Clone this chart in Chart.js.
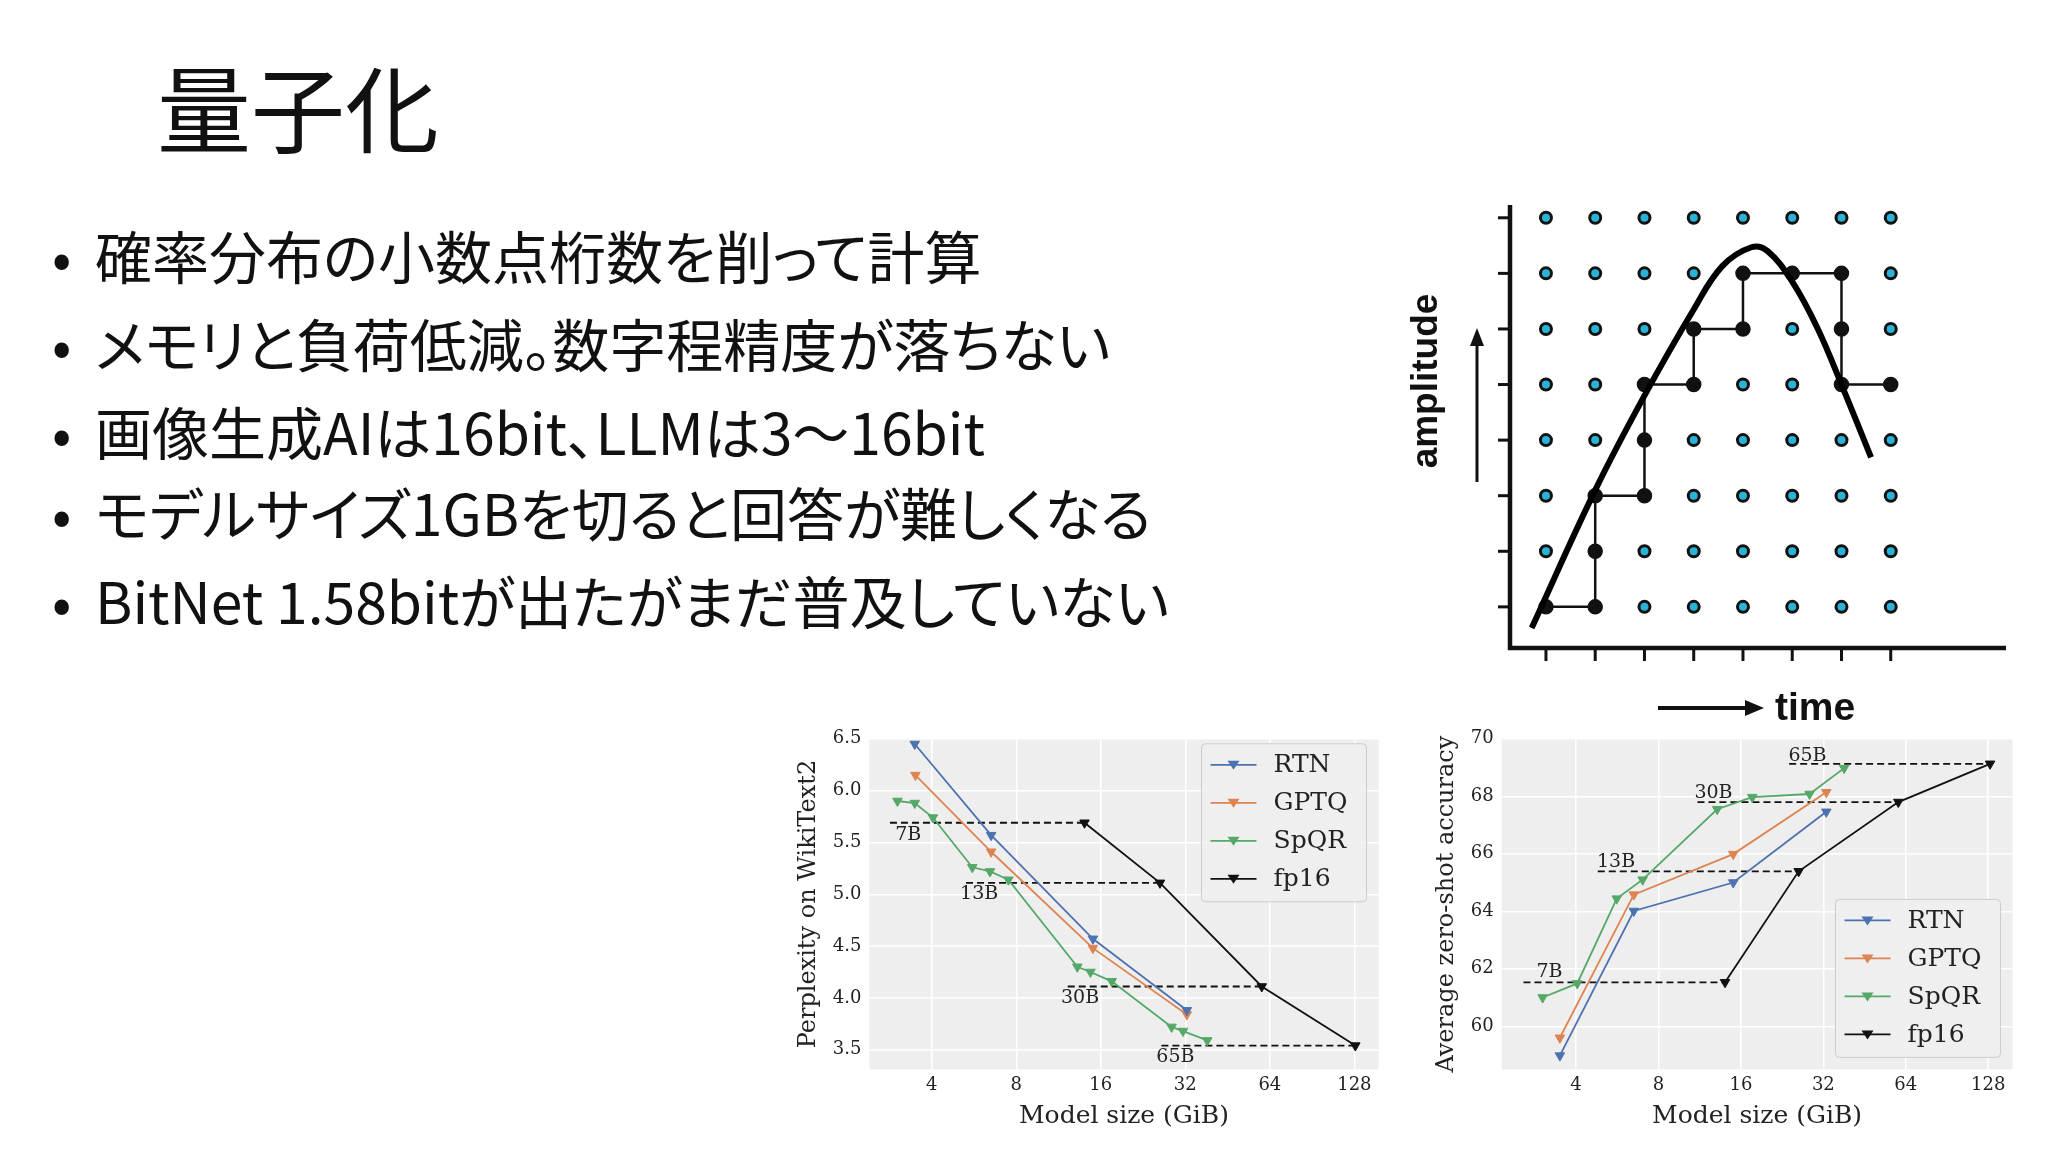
<!DOCTYPE html>
<html><head><meta charset="utf-8">
<script src="https://cdn.jsdelivr.net/npm/chart.js@4"></script>
<style>
html,body{margin:0;padding:0;background:#fff;width:2048px;height:1152px;overflow:hidden;position:relative;font-family:"Noto Sans CJK JP","Noto Sans",sans-serif;}
#title{position:absolute;left:157px;top:50px;font-size:94px;line-height:110px;color:#111;}
.b{position:absolute;left:52px;font-size:57px;line-height:70px;color:#111;white-space:nowrap;font-feature-settings:"palt";}
.b span{display:inline-block;width:43px;}
.cv{position:absolute;}
#amp{position:absolute;left:1335px;top:360px;width:180px;text-align:center;transform:rotate(-90deg);font:bold 37px "Liberation Sans",Arial,sans-serif;color:#111;}
#time{position:absolute;left:1775px;top:685px;font:bold 39px "Liberation Sans",Arial,sans-serif;color:#111;}
</style></head><body>
<div id="title">量子化</div>
<div class="b" style="top:219px"><span>•</span>確率分布の小数点桁数を削って計算</div>
<div class="b" style="top:307px"><span>•</span>メモリと負荷低減。数字程精度が落ちない</div>
<div class="b" style="top:395px"><span>•</span>画像生成AIは16bit、LLMは3～16bit</div>
<div class="b" style="top:476px"><span>•</span>モデルサイズ1GBを切ると回答が難しくなる</div>
<div class="b" style="top:564px"><span>•</span>BitNet 1.58bitが出たがまだ普及していない</div>
<canvas id="d" class="cv" style="left:1386px;top:188px;width:648px;height:540px" width="648" height="540"></canvas>
<div id="amp">amplitude</div>
<div id="time">time</div>
<canvas id="c1" class="cv" style="left:790px;top:720px;width:595px;height:419px" width="595" height="419"></canvas>
<canvas id="c2" class="cv" style="left:1428px;top:720px;width:591px;height:419px" width="591" height="419"></canvas>
<script>
// ---- diagram data ----
const gridX=[1,2,3,4,5,6,7,8];
const gridY=[1,2,3,4,5,6,7,8];
const curveX=[0.71,2.0,3.0,4.0,4.58,5.17,5.5,6.0,6.52,7.0,7.6];
const curveY=[0.62,3.1,4.8,6.35,7.13,7.47,7.4,6.85,6.0,5.0,3.69];
const stepX=[1,2,2,2,3,3,3,4,4,5,5,6,7,7,7,8];
const stepY=[1,1,2,3,3,4,5,5,6,6,7,7,7,6,5,5];

// ---- chart data ----
const xTicks=[4,8,16,32,64,128];
const pplRTN_x=[3.48,6.51,15.0,32.4], pplRTN_y=[6.45,5.57,4.57,3.88];
const pplGPTQ_x=[3.5,6.51,15.0,32.4], pplGPTQ_y=[6.15,5.41,4.48,3.84];
const pplSpQR_x=[3.02,3.48,4.04,5.58,6.45,7.5,13.2,14.7,17.5,28.6,31.4,38.3];
const pplSpQR_y=[5.90,5.88,5.74,5.26,5.22,5.14,4.30,4.25,4.16,3.72,3.68,3.59];
const pplFp_x=[14.0,26.0,59.9,129], pplFp_y=[5.69,5.11,4.11,3.54];
const pplRef_y=[5.69,5.11,4.11,3.54], pplRef_x0=[2.84,5.3,12.2,26.3], pplRef_x1=[14.0,26.0,59.9,129];
const sizeLabels=['7B','13B','30B','65B'];
const pplLab_x=[3.3,5.9,13.5,29.5], pplLab_y=[5.57,5.0,4.0,3.43];

const accRTN_x=[3.49,6.5,15.0,32.8], accRTN_y=[58.98,64.01,65.0,67.46];
const accGPTQ_x=[3.49,6.5,15.0,32.8], accGPTQ_y=[59.6,64.58,65.99,68.14];
const accSpQR_x=[3.02,4.04,5.63,7.0,13.1,17.6,28.5,38.1];
const accSpQR_y=[61.0,61.49,64.44,65.1,67.55,67.97,68.08,68.98];
const accFp_x=[14.0,26.0,60.1,130], accFp_y=[61.53,65.39,67.80,69.13];
const accRef_y=[61.53,65.39,67.80,69.13], accRef_x0=[2.57,4.8,11.1,24.0], accRef_x1=[14.0,26.0,60.1,130];
const accLab_x=[3.2,5.6,12.7,28], accLab_y=[61.9,65.7,68.1,69.4];

const names=['RTN','GPTQ','SpQR','fp16'];
const colors=['#4c72b0','#dd8452','#55a868','#111111'];
const zip=(a,b)=>a.map((v,i)=>({x:v,y:b[i]}));

// ---- diagram ----
const arrowPlugin={id:'arr',afterDraw(c){const g=c.ctx,xs=c.scales.x,ys=c.scales.y;g.save();g.strokeStyle='#111';g.fillStyle='#111';
 const L=xs.getPixelForValue(xs.min),B=ys.getPixelForValue(ys.min),T=ys.getPixelForValue(ys.max),R=xs.getPixelForValue(xs.max);
 g.lineWidth=4.5;g.beginPath();g.moveTo(L,T);g.lineTo(L,B);g.lineTo(R,B);g.stroke();
 g.lineWidth=3;gridY.forEach(v=>{const p=ys.getPixelForValue(v);g.beginPath();g.moveTo(L-12,p);g.lineTo(L,p);g.stroke();});
 gridX.forEach(v=>{const p=xs.getPixelForValue(v);g.beginPath();g.moveTo(p,B);g.lineTo(p,B+13);g.stroke();});
 g.lineWidth=3;g.beginPath();g.moveTo(91,484-190);g.lineTo(91,345-190);g.stroke();
 g.beginPath();g.moveTo(84,348-190);g.lineTo(91,330-190);g.lineTo(98,348-190);g.fill();
 g.lineWidth=4;g.beginPath();g.moveTo(272,710-190);g.lineTo(364,710-190);g.stroke();
 g.beginPath();g.moveTo(359,702-190);g.lineTo(378,710-190);g.lineTo(359,718-190);g.fill();
 g.restore();}};
const gridPts=[];gridY.forEach(y=>gridX.forEach(x=>gridPts.push({x,y})));
new Chart(document.getElementById('d'),{type:'scatter',data:{datasets:[
 {data:zip(curveX,curveY),showLine:true,tension:0.4,borderColor:'#000',borderWidth:6,pointRadius:0,order:1},
 {data:zip(stepX,stepY),showLine:true,tension:0,borderColor:'#111',borderWidth:2.5,pointRadius:6.5,pointBackgroundColor:'#111',pointBorderColor:'#111',order:2},
 {data:gridPts,pointRadius:5.5,pointBackgroundColor:'#2ab3d6',pointBorderColor:'#111',pointBorderWidth:3,order:3}
]},options:{responsive:false,animation:false,events:[],layout:{padding:{left:124,right:28,top:17,bottom:80}},
 plugins:{legend:{display:false},tooltip:{enabled:false}},
 scales:{x:{type:'linear',min:0.27,max:10.34,display:false},y:{type:'linear',min:0.26,max:8.23,display:false}}},plugins:[arrowPlugin]});

// ---- line charts ----
function makeChart(id,series,ref,lab,ymin,ymax,yticks,ytitle,legendTop,xmin,xmax){
 const ds=series.map((s,i)=>({label:names[i],data:zip(s[0],s[1]),borderColor:colors[i],backgroundColor:colors[i],borderWidth:1.8,
   pointStyle:'triangle',rotation:180,pointRadius:5.5,pointBorderWidth:1,tension:0}));
 ref[0].forEach((y,i)=>ds.push({label:'_ref',data:[{x:ref[1][i],y},{x:ref[2][i],y}],borderColor:'#111',borderWidth:1.8,borderDash:[7,4],pointRadius:0}));
 const bg={id:'bg',beforeDraw(c){const a=c.chartArea,g=c.ctx;g.save();g.fillStyle='#eeeeee';g.fillRect(a.left,a.top,a.right-a.left,a.bottom-a.top);g.restore();},
  afterDatasetsDraw(c){const g=c.ctx,xs=c.scales.x,ys=c.scales.y,a=c.chartArea;g.save();
   g.font='19px "DejaVu Serif"';g.fillStyle='#222';g.textAlign='center';g.textBaseline='middle';
   sizeLabels.forEach((t,i)=>g.fillText(t,xs.getPixelForValue(lab[0][i]),ys.getPixelForValue(lab[1][i])));
   const w=165,h=158,x0=a.right-w-12,y0=legendTop?a.top+5:a.bottom-h-12;
   g.fillStyle='rgba(238,238,238,0.9)';g.strokeStyle='#cccccc';g.lineWidth=1;g.beginPath();g.roundRect(x0,y0,w,h,4);g.fill();g.stroke();
   names.forEach((n,i)=>{const y=y0+21+i*38;g.strokeStyle=colors[i];g.lineWidth=1.8;g.beginPath();g.moveTo(x0+9,y);g.lineTo(x0+55,y);g.stroke();
    g.fillStyle=colors[i];g.beginPath();g.moveTo(x0+26,y-4);g.lineTo(x0+38,y-4);g.lineTo(x0+32,y+5);g.fill();
    g.fillStyle='#222';g.textAlign='left';g.font='25px "DejaVu Serif"';g.fillText(n,x0+72,y+1);});
   g.restore();}};
 return new Chart(document.getElementById(id),{type:'line',data:{datasets:ds},plugins:[bg],
  options:{responsive:false,animation:false,events:[],layout:{padding:{top:12,right:5,bottom:4}},
   plugins:{legend:{display:false},tooltip:{enabled:false}},
   scales:{x:{type:'logarithmic',min:xmin,max:xmax,afterBuildTicks(s){s.ticks=xTicks.map(v=>({value:v}));},
     ticks:{callback:v=>String(v),color:'#222',font:{family:'DejaVu Serif',size:18},maxRotation:0,padding:5},
     grid:{color:'#ffffff',lineWidth:1.5,drawTicks:false},border:{display:false},
     title:{display:true,text:'Model size (GiB)',color:'#222',font:{family:'DejaVu Serif',size:25},padding:{top:0}}},
    y:{type:'linear',min:ymin,max:ymax,afterBuildTicks(s){s.ticks=yticks.map(v=>({value:v}));},
     ticks:{color:'#222',font:{family:'DejaVu Serif',size:18},padding:8,callback:v=>ytitle.startsWith('Perp')?v.toFixed(1):String(v)},
     grid:{color:'#ffffff',lineWidth:1.5,drawTicks:false},border:{display:false},
     title:{display:true,text:ytitle,color:'#222',font:{family:'DejaVu Serif',size:24},padding:{bottom:2}}}}}});
}
makeChart('c1',[[pplRTN_x,pplRTN_y],[pplGPTQ_x,pplGPTQ_y],[pplSpQR_x,pplSpQR_y],[pplFp_x,pplFp_y]],
 [pplRef_y,pplRef_x0,pplRef_x1],[pplLab_x,pplLab_y],3.31,6.5,[3.5,4.0,4.5,5.0,5.5,6.0,6.5],'Perplexity on WikiText2',true,2.4,156);
makeChart('c2',[[accRTN_x,accRTN_y],[accGPTQ_x,accGPTQ_y],[accSpQR_x,accSpQR_y],[accFp_x,accFp_y]],
 [accRef_y,accRef_x0,accRef_x1],[accLab_x,accLab_y],58.5,70,[60,62,64,66,68,70],'Average zero-shot accuracy',false,2.14,157);
</script>
</body></html>
